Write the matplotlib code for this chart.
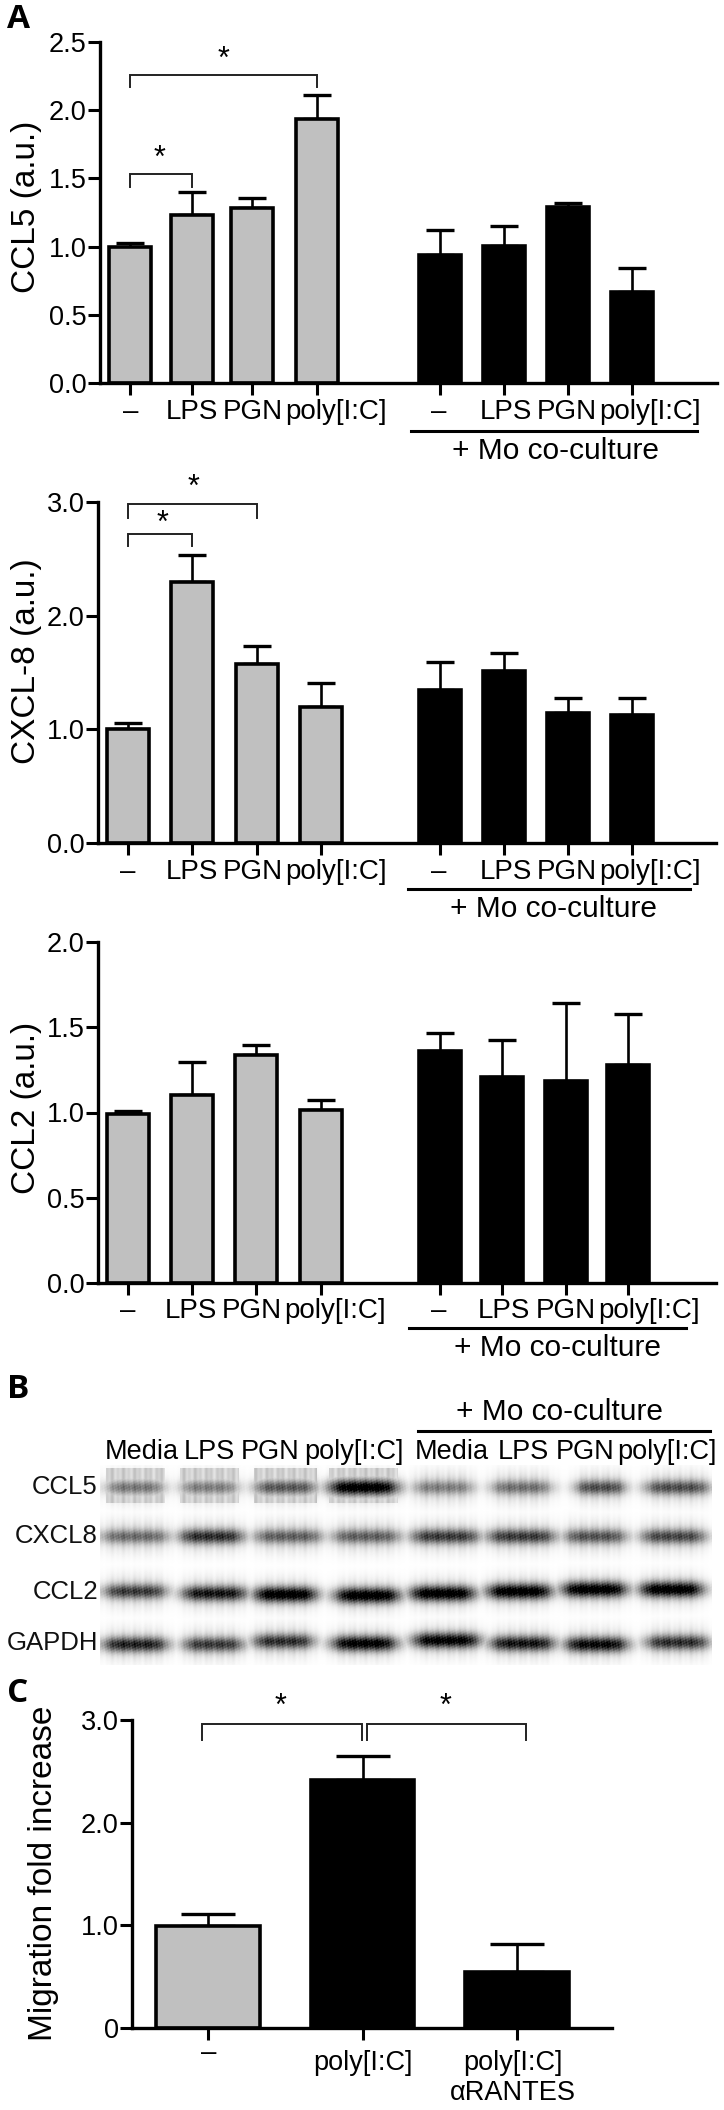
import numpy as np
import matplotlib
matplotlib.use("Agg")
import matplotlib.pyplot as plt

W, H = 724, 2110
NARROW = ['Liberation Sans Narrow', 'Liberation Sans', 'DejaVu Sans']
WIDE = ['Liberation Sans', 'DejaVu Sans']
BOLD = ['Open Sans', 'DejaVu Sans']
GREY = '#c0c0c0'

# panel A, CCL5
ccl5_mean = [1.00, 1.23, 1.28, 1.935, 0.94, 1.005, 1.29, 0.667]
ccl5_top = [1.026, 1.40, 1.354, 2.11, 1.12, 1.153, 1.32, 0.84]
# panel A, CXCL-8
cxcl8_mean = [1.005, 2.294, 1.576, 1.195, 1.35, 1.51, 1.14, 1.128]
cxcl8_top = [1.058, 2.534, 1.734, 1.406, 1.59, 1.67, 1.277, 1.274]
# panel A, CCL2
ccl2_mean = [0.989, 1.105, 1.339, 1.017, 1.359, 1.208, 1.187, 1.281]
ccl2_top = [1.007, 1.296, 1.398, 1.071, 1.466, 1.427, 1.642, 1.58]
# panel C
migration_mean = [0.998, 2.42, 0.546]
migration_top = [1.115, 2.646, 0.822]

group_labels = ['\u2013', 'LPS', 'PGN', 'poly[I:C]', '\u2013', 'LPS', 'PGN', 'poly[I:C]']
coculture = '+ Mo co-culture'

# panel B band darkness, lane by lane
blot_labels = ['Media', 'LPS', 'PGN', 'poly[I:C]', 'Media', 'LPS', 'PGN', 'poly[I:C]']
blot_rows = ['CCL5', 'CXCL8', 'CCL2', 'GAPDH']
blot_ccl5 = [0.45, 0.42, 0.58, 1.00, 0.42, 0.48, 0.62, 0.62]
blot_cxcl8 = [0.50, 0.75, 0.55, 0.55, 0.70, 0.70, 0.60, 0.65]
blot_ccl2 = [0.70, 0.85, 1.00, 1.00, 1.00, 1.00, 1.00, 1.00]
blot_gapdh = [0.80, 0.70, 0.75, 0.95, 0.95, 0.85, 0.90, 0.75]

# layout, lanes are 64 px apart
lanes_a = [0.03, 1, 1.94, 2.95, 4.88, 5.88, 6.88, 7.88]
lanes_b = [0, 1, 2.02, 3.02, 4.88, 5.88, 6.88, 7.88]
lanes_c = [0, 1, 2, 3.02, 4.88, 5.84, 6.84, 7.81]
band_x = [[135, 209, 285, 363, 443, 521, 600, 677],
          [135, 211, 288, 366, 445, 521, 595, 673],
          [135, 214, 285, 367, 442, 519, 594, 671],
          [135, 213, 283, 364, 446, 522, 596, 677]]
band_y = [[1487] * 8,
          [1536] * 8,
          [1591, 1593, 1594, 1595, 1593, 1591, 1589, 1589],
          [1644, 1644, 1641, 1643, 1640, 1643, 1644, 1642]]
band_w = [[28, 28, 30, 33, 29, 29, 24, 31],
          [33, 31, 33, 33, 33, 33, 30, 31],
          [30, 31, 30, 31, 31, 31, 31, 30],
          [31, 29, 29, 31, 32, 31, 30, 30]]

fig = plt.figure(figsize=(W / 100, H / 100), dpi=100)


def px_text(x, y, s, size=20, family=NARROW, ha='center', va='center', **kw):
    return fig.text(x / W, 1 - y / H, s, fontsize=size, family=family, ha=ha, va=va, **kw)


def px_axes(left, top, right, bottom):
    return fig.add_axes([left / W, 1 - bottom / H, (right - left) / W, (bottom - top) / H])


def style_axis(ax, ticks, ticklabels, ymax):
    for side in ['top', 'right']:
        ax.spines[side].set_visible(False)
    for side in ['left', 'bottom']:
        ax.spines[side].set_linewidth(2.4)
    ax.set_ylim(0, ymax)
    ax.set_yticks(ticks)
    ax.set_yticklabels(ticklabels, fontsize=19.5, family=NARROW)
    ax.tick_params(axis='both', direction='out', length=8.6, width=2.2, pad=1)
    ax.patch.set_alpha(0)


def bracket(ax, x0, x1, y, drop):
    ax.plot([x0, x0, x1, x1], [y - drop, y, y, y - drop], color='#222222', lw=1.4,
            clip_on=False, solid_joinstyle='miter')


def star(ax, x, y):
    ax.text(x, y, '*', fontsize=22, family=WIDE, ha='center', va='center', clip_on=False)


def bar_panel(box, x0, lanes, mean, top, ticks, ticklabels, ymax, ylabel, label_y, label_x,
              line, mo_xy, ylabel_xy):
    left, ytop, right, bottom = box
    ax = px_axes(left, ytop, right, bottom)
    ax.set_xlim((left - x0) / 64, (right - x0) / 64)
    colors = [GREY] * 4 + ['black'] * 4
    ax.bar(lanes, mean, width=0.66, color=colors, edgecolor='black', linewidth=2.6, zorder=2)
    low = np.zeros(8)
    err = np.array(top) - np.array(mean)
    ax.errorbar(lanes, mean, yerr=[low, err], fmt='none', ecolor='black', elinewidth=1.9,
                capsize=10, capthick=2.4, zorder=1)
    style_axis(ax, ticks, ticklabels, ymax)
    ax.set_xticks(lanes)
    ax.set_xticklabels([])
    for x, s in zip(label_x, group_labels):
        px_text(x, label_y, s)
    fig.add_artist(plt.Line2D([line[0] / W, line[1] / W], [1 - line[2] / H] * 2, color='black', lw=2.2))
    px_text(mo_xy[0], mo_xy[1], coculture, size=21.5)
    px_text(ylabel_xy[0], ylabel_xy[1], ylabel, size=24, family=WIDE, rotation=90)
    return ax


# CCL5
ax = bar_panel((100, 42, 717, 383), 128, lanes_a, ccl5_mean, ccl5_top,
               [0, 0.5, 1, 1.5, 2, 2.5], ['0.0', '0.5', '1.0', '1.5', '2.0', '2.5'], 2.5,
               'CCL5 (a.u.)', 412, [131, 192, 253, 336, 439, 506, 567, 650],
               (411, 697, 431), (556, 451), (27, 207))
bracket(ax, 0.03, 2.95, 2.26, 0.09)
bracket(ax, 0.03, 1, 1.535, 0.095)
star(ax, 1.5, 2.37)
star(ax, 0.5, 1.64)

# CXCL-8
ax = bar_panel((98, 502, 716, 843), 128, lanes_b, cxcl8_mean, cxcl8_top,
               [0, 1, 2, 3], ['0.0', '1.0', '2.0', '3.0'], 3.0,
               'CXCL-8 (a.u.)', 872, [128, 192, 253, 336, 439, 506, 567, 650],
               (408, 690, 889), (553, 909), (27, 661))
bracket(ax, 0, 2.02, 2.98, 0.12)
bracket(ax, 0, 1, 2.72, 0.11)
star(ax, 1.03, 3.12)
star(ax, 0.54, 2.81)

# CCL2
ax = bar_panel((98, 942, 716, 1283), 128, lanes_c, ccl2_mean, ccl2_top,
               [0, 0.5, 1, 1.5, 2], ['0.0', '0.5', '1.0', '1.5', '2.0'], 2.0,
               'CCL2 (a.u.)', 1311, [128, 191, 252, 335, 439, 504, 566, 649],
               (409, 686, 1328), (557, 1348), (27, 1108))

# western blot, drawn as soft bands with vertical smear
ax = px_axes(100, 1465, 712, 1665)
yy, xx = np.mgrid[1465:1665, 100:712]
streak = 0.72 + 0.28 * np.sin(xx * 0.83) * np.sin(xx * 0.31 + 1.2)
grain = 0.88 + 0.12 * np.sin(xx * 1.7 + yy * 0.9) * np.sin(xx * 0.6 - yy * 1.3)
img = np.zeros(xx.shape)
for r, dark in enumerate([blot_ccl5, blot_cxcl8, blot_ccl2, blot_gapdh]):
    for i in range(8):
        dx = (xx - band_x[r][i]) / band_w[r][i]
        dy = yy - band_y[r][i]
        lane = 1 / (1 + np.abs(dx) ** 6)
        core = np.exp(-(dy / (6.0 + 1.5 * dark[i])) ** 2) * grain
        halo = 0.22 * np.exp(-(dy / 16.0) ** 2) * streak
        img = np.maximum(img, lane * (core * dark[i] ** 1.15 + halo))
        # stronger membrane background in the first four CCL5 lanes, cut off below
        if r == 0 and i < 4:
            back = 0.24 * streak * ((yy > 1467) & (yy < 1503))
            img = np.maximum(img, (np.abs(dx) < 1.05) * back)
ax.imshow(1 - np.clip(img * 1.05, 0, 1), cmap='gray', vmin=0, vmax=1, aspect='auto',
          extent=(100, 712, 1665, 1465), interpolation='bilinear')
ax.axis('off')
for x, s in zip([142, 209, 270, 354, 452, 523, 585, 667], blot_labels):
    px_text(x, 1452, s, size=19.5)
px_text(559, 1412, coculture, size=21.5)
fig.add_artist(plt.Line2D([418 / W, 710 / W], [1 - 1431 / H] * 2, color='black', lw=2.2))
for y, s in zip([1487, 1536, 1592, 1643], blot_rows):
    px_text(98, y, s, size=18.5, ha='right', color='#111111')

# panel C
ax = px_axes(132, 1720, 612, 2028)
ax.set_xlim((132 - 208) / 154.5, (612 - 208) / 154.5)
ax.bar([0, 1, 2], migration_mean, width=0.67, color=[GREY, 'black', 'black'],
       edgecolor='black', linewidth=2.6, zorder=2)
ax.errorbar([0, 1, 2], migration_mean,
            yerr=[np.zeros(3), np.array(migration_top) - np.array(migration_mean)],
            fmt='none', ecolor='black', elinewidth=1.9, capsize=19.5, capthick=2.4, zorder=1)
style_axis(ax, [0, 1, 2, 3], ['0', '1.0', '2.0', '3.0'], 3.0)
ax.set_xticks([0, 1, 2])
ax.set_xticklabels([])
bracket(ax, -0.04, 0.995, 2.964, 0.16)
bracket(ax, 1.03, 2.06, 2.964, 0.16)
star(ax, 0.47, 3.13)
star(ax, 1.54, 3.13)
px_text(209, 2053, '\u2013')
px_text(363, 2063, 'poly[I:C]', size=19.5)
px_text(513, 2063, 'poly[I:C]', size=19.5)
px_text(513, 2093, '\u03b1RANTES', size=19.5)
px_text(44, 1873, 'Migration fold increase', size=24, family=WIDE, rotation=90)

# panel letters
px_text(7, 20, 'A', size=24, family=BOLD, ha='left', weight='bold')
px_text(7, 1390, 'B', size=24, family=BOLD, ha='left', weight='bold')
px_text(7, 1694, 'C', size=24, family=BOLD, ha='left', weight='bold')

fig.savefig('out.png', dpi=100)
